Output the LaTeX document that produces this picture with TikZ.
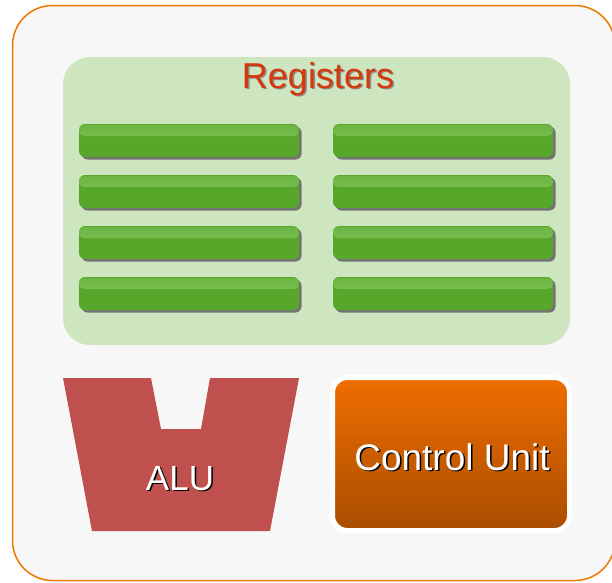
\documentclass[tikz,border=0pt]{standalone}
\usepackage{fontspec}
\setmainfont{Liberation Sans}
\usetikzlibrary{calc,shadows}

\definecolor{cpuback}{HTML}{F7F7F7}
\definecolor{cpuedge}{HTML}{EE7700}
\definecolor{regback}{HTML}{CDE6C0}
\definecolor{reggreen}{HTML}{57A82A}
\definecolor{reglight}{HTML}{8AC866}
\definecolor{regtitle}{HTML}{D4380C}
\definecolor{alured}{HTML}{C0504D}
\definecolor{cutop}{HTML}{EF6E00}
\definecolor{cubottom}{HTML}{A94C00}

\tikzset{
  regbar/.style={rounded corners=6pt, minimum width=220pt, minimum height=33pt,
    inner sep=0pt, fill=reggreen,
    drop shadow={shadow xshift=2.5pt, shadow yshift=-2.5pt, fill=black!55, opacity=1},
    path picture={
      \shade[top color=reggreen!60!reglight, bottom color=reglight, rounded corners=5pt]
        ([yshift=-1pt]path picture bounding box.north west) rectangle
        ([yshift=-12pt]path picture bounding box.north east);
    }},
  bigtext/.style={font=\fontsize{35}{40}\selectfont, inner sep=0pt, anchor=base},
  shadowtext/.style={bigtext, black, xshift=1.5pt, yshift=-1.5pt}
}

\begin{document}
\begin{tikzpicture}[x=1pt,y=-1pt]
  \useasboundingbox (0,0) rectangle (612,582);
  % processor box
  \draw[fill=cpuback, draw=cpuedge, line width=1.5pt, rounded corners=40pt]
    (12.5,5.5) rectangle (615,580.5);
  % register panel
  \fill[regback, rounded corners=27pt] (63,57) rectangle (570,345);
  \node[shadowtext, black!45, font=\fontsize{36}{41}\selectfont] (regshadow) at (318,88) {Registers};
  \node[bigtext, regtitle, font=\fontsize{36}{41}\selectfont] (regtitle) at (318,88) {Registers};
  \foreach \i in {0,...,3} {
    \node[regbar] (regl\i) at (189,{140.5+51*\i}) {};
    \node[regbar] (regr\i) at (443,{140.5+51*\i}) {};
  }
  % alu
  \fill[alured] (63,378) -- (151,378) -- (161,429) -- (201,429) -- (210,378)
    -- (299,378) -- (270,531) -- (92,531) -- cycle;
  \node[shadowtext] (alushadow) at (180,490) {ALU};
  \node[bigtext, white] (alu) at (180,490) {ALU};
  % control unit
  \node[draw=white, line width=5pt, rounded corners=15pt, top color=cutop,
    bottom color=cubottom, minimum width=237pt, minimum height=153pt]
    (cu) at (451,454) {};
  \node[shadowtext, font=\fontsize{37}{42}\selectfont] (cushadow) at (452,470) {Control Unit};
  \node[bigtext, white, font=\fontsize{37}{42}\selectfont] (cutext) at (452,470) {Control Unit};
\end{tikzpicture}
\end{document}
